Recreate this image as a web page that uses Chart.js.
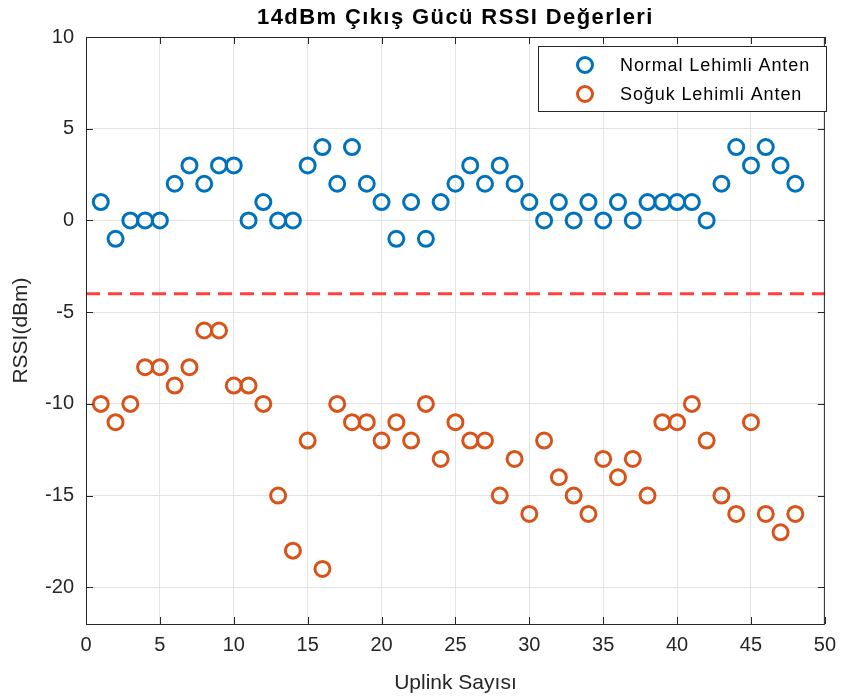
<!DOCTYPE html>
<html>
<head>
<meta charset="utf-8">
<script src="https://cdn.jsdelivr.net/npm/chart.js@4/dist/chart.umd.min.js"></script>
<style>
  html, body { margin: 0; padding: 0; background: #fff; }
  #wrap { width: 845px; height: 699px; }
</style>
</head>
<body>
<div id="wrap"><canvas id="chart" width="845" height="699"></canvas></div>
<script>
// uplink numbers 1..48
const uplinks = [1,2,3,4,5,6,7,8,9,10,11,12,13,14,15,16,17,18,19,20,21,22,23,24,
                 25,26,27,28,29,30,31,32,33,34,35,36,37,38,39,40,41,42,43,44,45,46,47,48];
// RSSI values
const normalRssi = [1,-1,0,0,0,2,3,2,3,3,0,1,0,0,3,4,2,4,2,1,-1,1,-1,1,
                    2,3,2,3,2,1,0,1,0,1,0,1,0,1,1,1,1,0,2,4,3,4,3,2];
const coldRssi = [-10,-11,-10,-8,-8,-9,-8,-6,-6,-9,-9,-10,-15,-18,-12,-19,-10,-11,-11,-12,-11,-12,-10,-13,
                  -11,-12,-12,-15,-13,-16,-12,-14,-15,-16,-13,-14,-13,-15,-11,-11,-10,-12,-15,-16,-11,-16,-17,-16];
const threshold = -4;
const seriesNames = ["Normal Lehimli Anten", "Soğuk Lehimli Anten"];
const xTicks = [0,5,10,15,20,25,30,35,40,45,50];
const yTicks = [10,5,0,-5,-10,-15,-20];

const blue = "#0072BD";
const orange = "#D95319";
const font = "'Liberation Sans', Arial, sans-serif";

// title, box, inward ticks and legend like the original figure
const figurePlugin = {
  id: "figure",
  afterDraw(chart) {
    const ctx = chart.ctx;
    const a = chart.chartArea;
    const xs = chart.scales.x, ys = chart.scales.y;
    ctx.save();
    // title
    ctx.fillStyle = "#000";
    ctx.font = "bold 22px " + font;
    ctx.letterSpacing = "1.4px";
    ctx.textAlign = "center";
    ctx.textBaseline = "middle";
    ctx.fillText("14dBm Çıkış Gücü RSSI Değerleri", (a.left + a.right) / 2, 18);
    // box
    ctx.strokeStyle = "#262626";
    ctx.lineWidth = 1;
    ctx.strokeRect(a.left + 0.5, a.top + 0.5, a.right - a.left - 1, a.bottom - a.top);
    // ticks inside
    ctx.beginPath();
    xTicks.forEach(v => {
      const px = Math.round(xs.getPixelForValue(v)) + 0.5;
      ctx.moveTo(px, a.bottom); ctx.lineTo(px, a.bottom - 7);
      ctx.moveTo(px, a.top); ctx.lineTo(px, a.top + 7);
    });
    yTicks.forEach(v => {
      const py = Math.round(ys.getPixelForValue(v)) + 0.5;
      ctx.moveTo(a.left, py); ctx.lineTo(a.left + 7, py);
      ctx.moveTo(a.right, py); ctx.lineTo(a.right - 7, py);
    });
    ctx.stroke();
    // legend
    const lx = 538, ly = 46, lw = 288, lh = 65;
    ctx.fillStyle = "#fff";
    ctx.fillRect(lx, ly, lw, lh);
    ctx.strokeStyle = "#262626";
    ctx.strokeRect(lx + 0.5, ly + 0.5, lw, lh);
    [blue, orange].forEach((c, i) => {
      const cy = ly + 19 + i * 29;
      ctx.beginPath();
      ctx.strokeStyle = c;
      ctx.lineWidth = 3;
      ctx.arc(lx + 47, cy, 7.5, 0, Math.PI * 2);
      ctx.stroke();
      ctx.fillStyle = "#000";
      ctx.font = "18px " + font;
      ctx.letterSpacing = "0.9px";
      ctx.textAlign = "left";
      ctx.fillText(seriesNames[i], lx + 82, cy + 1);
    });
    ctx.restore();
  }
};

const ctx = document.getElementById("chart").getContext("2d");
new Chart(ctx, {
  type: "scatter",
  data: {
    datasets: [
      {
        label: seriesNames[0],
        data: uplinks.map((u, i) => ({ x: u, y: normalRssi[i] })),
        borderColor: blue,
        backgroundColor: "rgba(0,0,0,0)",
        pointRadius: 7.5,
        pointBorderWidth: 3,
        pointHoverRadius: 7.5
      },
      {
        label: seriesNames[1],
        data: uplinks.map((u, i) => ({ x: u, y: coldRssi[i] })),
        borderColor: orange,
        backgroundColor: "rgba(0,0,0,0)",
        pointRadius: 7.5,
        pointBorderWidth: 3,
        pointHoverRadius: 7.5
      },
      {
        label: "threshold",
        type: "line",
        data: [{ x: 0, y: threshold }, { x: 50, y: threshold }],
        borderColor: "#FF4040",
        borderWidth: 3,
        borderDash: [14, 8],
        pointRadius: 0,
        fill: false
      }
    ]
  },
  options: {
    responsive: false,
    animation: false,
    layout: { padding: { top: 37, right: 16, left: 0, bottom: 0 } },
    plugins: {
      legend: { display: false },
      title: { display: false },
      tooltip: { enabled: false }
    },
    scales: {
      x: {
        type: "linear",
        min: 0,
        max: 50,
        afterBuildTicks: s => { s.ticks = xTicks.map(v => ({ value: v })); },
        afterFit: s => { s.height = 75; },
        grid: { color: "#e3e3e3", drawTicks: false },
        border: { display: false },
        ticks: { color: "#262626", font: { family: font, size: 20 }, padding: 9 },
        title: { display: true, text: "Uplink Sayısı", color: "#262626",
                 font: { family: font, size: 21 }, padding: { top: 4, bottom: 3 } }
      },
      y: {
        type: "linear",
        min: -22,
        max: 10,
        afterBuildTicks: s => { s.ticks = yTicks.map(v => ({ value: v })); },
        afterFit: s => { s.width = 86; },
        grid: { color: "#e3e3e3", drawTicks: false },
        border: { display: false },
        ticks: { color: "#262626", font: { family: font, size: 20 }, padding: 12 },
        title: { display: true, text: "RSSI(dBm)", color: "#262626",
                 font: { family: font, size: 21 }, padding: { top: 9, bottom: 0 } }
      }
    }
  },
  plugins: [figurePlugin]
});
</script>
</body>
</html>
